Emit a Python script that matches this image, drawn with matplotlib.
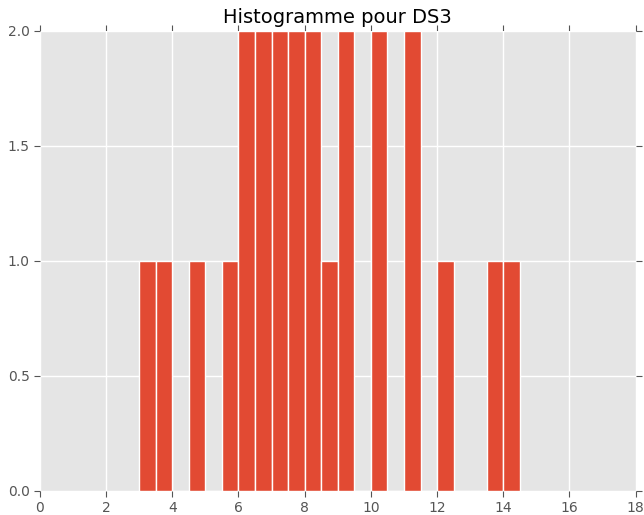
import numpy as np
import matplotlib.pyplot as plt

# bornes des classes (largeur 0.5) et effectifs
bin_edges = np.arange(3.0, 14.51, 0.5)
counts = [1, 1, 0, 1, 0, 1, 2, 2, 2, 2, 2, 1, 2, 0, 2, 0, 2, 0, 1, 0, 0, 1, 1]

plt.rcParams["font.family"] = "DejaVu Sans"

fig = plt.figure(figsize=(6.44, 5.15), dpi=100)
ax = fig.add_axes([0.062, 0.047, 0.925, 0.893])
ax.set_facecolor("#E5E5E5")
for s in ax.spines.values():
    s.set_visible(False)

ax.hist(bin_edges[:-1], bins=bin_edges, weights=counts,
        color="#E24A33", edgecolor="white", linewidth=1.0, zorder=2)

ax.set_xlim(0, 18)
ax.set_ylim(0, 2)
ax.set_xticks(np.arange(0, 19, 2))
ax.set_yticks([0.0, 0.5, 1.0, 1.5, 2.0])
ax.set_yticklabels(["0.0", "0.5", "1.0", "1.5", "2.0"])
ax.grid(True, color="white", linewidth=1.0, zorder=1)
ax.set_axisbelow(True)
ax.tick_params(direction="out", length=4, width=0.8, color="#555555",
               labelcolor="#555555", labelsize=10,
               top=True, right=True, labeltop=False, labelright=False)

ax.set_title("Histogramme pour DS3", fontsize=14, pad=6)

plt.savefig("out.png", dpi=100)
